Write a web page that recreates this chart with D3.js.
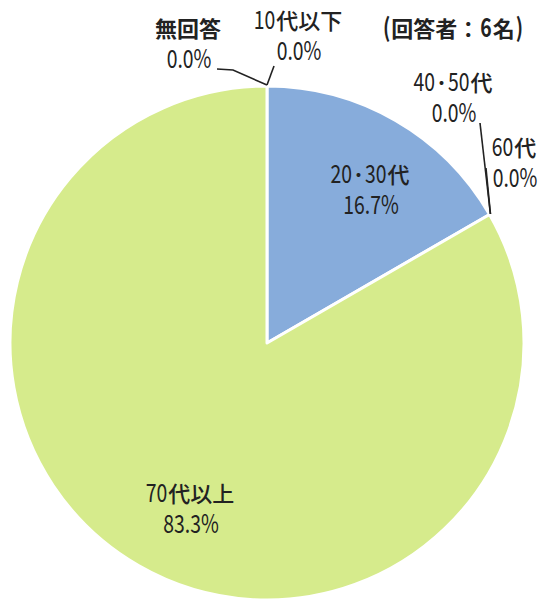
<!DOCTYPE html>
<html>
<head>
<meta charset="utf-8">
<script src="https://cdn.jsdelivr.net/npm/d3@7"></script>
<style>
  body { margin: 0; background: #fff; }
  text { fill: #222; font-family: 'Noto Sans CJK JP', sans-serif; }
</style>
</head>
<body>
<svg id="chart"></svg>
<script>
const categories = ['10代以下', '20･30代', '40･50代', '60代', '70代以上', '無回答'];
const counts = [0, 1, 0, 0, 5, 0];
const shares = [0.0, 16.7, 0.0, 0.0, 83.3, 0.0];
const respondents = 6;

const width = 542, height = 602;
const cx = 267, cy = 343, r = 257;

const colors = {
  '20･30代': '#87acdb',
  '70代以上': '#d6eb8c'
};

// label placement: x = centre, y = baseline of first line, lead = leader points
const layout = {
  '10代以下': { x: 298, y: 29, lead: [[274, 66]] },
  '20･30代': { x: 370, y: 183 },
  '40･50代': { x: 453, y: 91, lead: [[480, 123]] },
  '60代':     { x: 514, y: 156, lead: [[486, 168]] },
  '70代以上': { x: 190, y: 502 },
  '無回答':   { x: 188, y: 37, bold: true, lead: [[217, 69], [233, 70]] }
};

const data = categories.map((c, i) => ({ name: c, value: counts[i], share: shares[i] }));

const svg = d3.select('#chart')
  .attr('width', width)
  .attr('height', height);

const pie = d3.pie().sort(null).value(d => d.value);
const arcs = pie(data);
const arc = d3.arc().innerRadius(0).outerRadius(r);

const g = svg.append('g').attr('transform', `translate(${cx},${cy})`);

g.selectAll('path')
  .data(arcs.filter(d => d.data.value > 0))
  .enter().append('path')
  .attr('d', arc)
  .attr('fill', d => colors[d.data.name])
  .attr('stroke', '#fff')
  .attr('stroke-width', 3)
  .attr('stroke-linejoin', 'round');

// digits are tall and narrow in the original, kanji are wide:
// latin runs are drawn bigger and squeezed horizontally
function addLine(sel, str, x, y, bold) {
  const line = sel.append('g');
  const runs = str.match(/[\x20-\x7e]+|[^\x20-\x7e]+/g);
  let cursor = 0;
  runs.forEach((run, i) => {
    const latin = /^[\x20-\x7e]+$/.test(run);
    const sx = latin ? 0.76 : 1;
    const t = line.append('text')
      .attr('transform', `translate(${cursor},0) scale(${sx},1)`)
      .attr('font-size', latin ? 25.5 : 22)
      .attr('font-weight', bold ? 700 : (latin ? 400 : 500))
      .text(run);
    cursor += t.node().getComputedTextLength() * sx + (i < runs.length - 1 ? 1 : 0);
  });
  line.attr('transform', `translate(${x - cursor / 2},${y})`);
  return line;
}

const fmt = v => v.toFixed(1) + '%';

arcs.forEach(d => {
  const L = layout[d.data.name];
  if (L.lead) {
    const a = d.startAngle;
    const end = [cx + Math.sin(a) * (r + 1), cy - Math.cos(a) * (r + 1)];
    svg.append('path')
      .attr('d', d3.line()(L.lead.concat([end])))
      .attr('fill', 'none')
      .attr('stroke', '#222')
      .attr('stroke-width', 1.6);
  }
  addLine(svg, d.data.name, L.x, L.y, L.bold);
  addLine(svg, fmt(d.data.share), L.x + 1, L.y + 31, false);
});

addLine(svg, `(回答者：${respondents}名)`, 453, 37, true);
</script>
</body>
</html>
